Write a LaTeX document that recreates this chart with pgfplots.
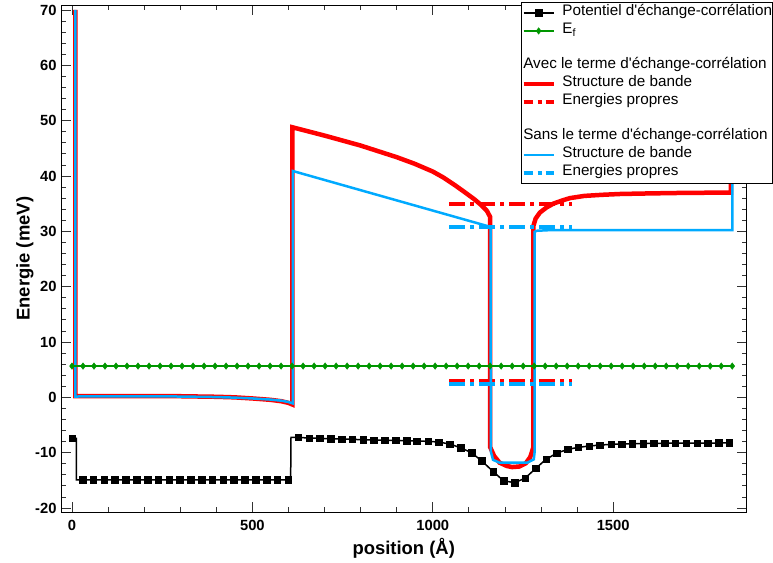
\documentclass[border=0pt]{standalone}
\usepackage{fontspec}
\setmainfont{Liberation Sans}[Ligatures=TeXOff]
\usepackage{pgfplots}
\pgfplotsset{compat=1.18}
\definecolor{myred}{RGB}{255,0,0}
\definecolor{myblue}{RGB}{0,170,255}
\definecolor{mygreen}{RGB}{0,150,0}
\tikzset{eplev/.style={line width=4bp, dash pattern=on 16bp off 5bp on 4bp off 5bp}}
\begin{document}
\begin{tikzpicture}
\begin{axis}[
 at={(0bp,0bp)}, anchor=south west,
 scale only axis, width=685.5bp, height=506.5bp,
 xmin=-30.5, xmax=1869.5, ymin=-20.72, ymax=70.81,
 xtick={0,500,1000,1500}, ytick={-20,-10,...,70},
 minor x tick num=4, minor y tick num=4,
 major tick length=10bp, minor tick length=5bp,
 tick style={black!80, line width=0.8bp},
 axis line style={black, line width=0.8bp},
 /pgf/number format/assume math mode=true,
 /pgf/number format/1000 sep={},
 tick label style={font=\fontsize{14.8}{16}\selectfont\bfseries},
 xticklabel style={yshift=-5bp},
 yticklabel style={xshift=-1bp},
 xlabel={position (Å)}, ylabel={Energie (meV)},
 label style={font=\fontsize{18.5}{20}\selectfont\bfseries},
 xlabel style={at={(axis description cs:0.5,0)}, anchor=base, yshift=-42bp},
 ylabel style={at={(axis description cs:-0.0525,0.5)}, anchor=center},
 legend style={at={(rel axis cs:0.671,1.0069)}, anchor=north west, draw=black, line width=0.8bp, fill=white,
   inner xsep=0bp, inner ysep=2bp, font=\fontsize{15.3}{17.3}\selectfont,
   nodes={inner sep=0bp, text height=11.5bp, text depth=6.2bp},
   /tikz/every odd column/.style={column sep=6.5bp}, row sep=0bp, cells={anchor=west}},
 legend image code/.code={\draw[mark repeat=2,mark phase=2,#1] plot coordinates {(0bp,0bp)(15bp,0bp)(30bp,0bp)};},
]
% band structure with exchange-correlation
\addplot[myred, line width=4.5bp, forget plot] coordinates {
(9,70)(9,0.2)(100,0.22)(200,0.22)(300,0.2)(400,0.1)(450,0.0)(500,-0.2)(550,-0.45)(580,-0.7)(600,-1.0)(611,-1.3)
(611,48.8)(700,47.3)(800,45.5)(900,43.4)(950,42.2)(1000,40.8)(1030,39.7)(1060,38.4)(1090,37.0)(1115,35.8)(1135,34.7)(1150,33.7)(1159,32.6)
(1159,-9.0)(1170,-10.6)(1185,-11.8)(1205,-12.4)(1220,-12.6)(1240,-12.5)(1258,-11.9)(1270,-10.8)(1279,-9.0)
(1279,31.0)(1285,32.3)(1297,33.4)(1315,34.3)(1334,35.0)(1360,35.6)(1380,36.0)(1420,36.4)(1470,36.6)(1520,36.75)
(1600,36.85)(1700,36.95)(1826,37.0)(1826,70)};
\addplot[myred, eplev, forget plot] coordinates {(1046,35.0)(1385,35.0)};
\addplot[myred, eplev, forget plot] coordinates {(1046,2.9)(1385,2.9)};
% band structure without exchange-correlation
\addplot[myblue, line width=2.5bp, forget plot] coordinates {
(9,70)(9,0.15)(100,0.17)(200,0.17)(300,0.15)(400,0.05)(450,-0.05)(500,-0.2)(550,-0.4)(580,-0.6)(600,-0.85)(612,-1.1)
(612,40.9)(1160,30.8)
(1161,-9.8)(1167,-11.3)(1185,-11.8)(1262,-11.8)(1280,-11.2)(1282,-10.0)
(1282,29.9)(1288,30.1)(1320,30.2)(1830,30.2)(1830,70)};
\addplot[myblue, eplev, forget plot] coordinates {(1046,30.85)(1385,30.85)};
\addplot[myblue, eplev, forget plot] coordinates {(1046,2.35)(1385,2.35)};
% exchange-correlation potential
\addplot[black, line width=1.5bp, forget plot] coordinates {
(0,-7.4)(12,-7.4)(12,-14.9)(606,-14.9)(607,-7.25)
(627,-7.23)(657,-7.36)(687,-7.41)(717,-7.48)(748,-7.54)(777,-7.59)(807,-7.66)(837,-7.72)(867,-7.75)(897,-7.77)
(927,-7.84)(956,-7.90)(987,-7.95)(1017,-8.08)(1047,-8.44)(1077,-9.11)(1107,-10.0)(1136,-11.5)(1167,-13.4)(1196,-15.07)
(1227,-15.43)(1256,-14.6)(1286,-12.8)(1314,-11.2)(1343,-10.1)(1374,-9.4)(1403,-9.04)(1433,-8.8)(1463,-8.62)(1494,-8.5)
(1523,-8.44)(1553,-8.39)(1583,-8.36)(1613,-8.31)(1643,-8.30)(1672,-8.29)(1702,-8.28)(1733,-8.27)(1762,-8.26)(1793,-8.25)
(1822,-8.24)(1832,-8.24)};
\addplot[black, only marks, mark=square*, mark size=3.3bp, forget plot] coordinates {
(0,-7.4)(29,-14.9)(59,-14.9)(89,-14.9)(119,-14.9)(149,-14.9)(179,-14.9)(209,-14.9)(239,-14.9)(269,-14.9)(299,-14.9)
(329,-14.9)(359,-14.9)(389,-14.9)(419,-14.9)(449,-14.9)(479,-14.9)(509,-14.9)(539,-14.9)(569,-14.9)(599,-14.9)
(627,-7.23)(657,-7.36)(687,-7.41)(717,-7.48)(748,-7.54)(777,-7.59)(807,-7.66)(837,-7.72)(867,-7.75)(897,-7.77)
(927,-7.84)(956,-7.90)(987,-7.95)(1017,-8.08)(1047,-8.44)(1077,-9.11)(1107,-10.0)(1136,-11.5)(1167,-13.4)(1196,-15.07)
(1227,-15.43)(1256,-14.6)(1286,-12.8)(1314,-11.2)(1343,-10.1)(1374,-9.4)(1403,-9.04)(1433,-8.8)(1463,-8.62)(1494,-8.5)
(1523,-8.44)(1553,-8.39)(1583,-8.36)(1613,-8.31)(1643,-8.30)(1672,-8.29)(1702,-8.28)(1733,-8.27)(1762,-8.26)(1793,-8.25)
(1822,-8.24)};
% Fermi level
\addplot[mygreen, line width=1.5bp, mark=diamond*, mark size=3.2bp, mark options={line width=0.5bp}, forget plot] coordinates {
(0,5.65)(30.5,5.65)(61,5.65)(91.5,5.65)(122,5.65)(152.5,5.65)(183,5.65)(213.5,5.65)(244,5.65)(274.5,5.65)
(305,5.65)(335.5,5.65)(366,5.65)(396.5,5.65)(427,5.65)(457.5,5.65)(488,5.65)(518.5,5.65)(549,5.65)(579.5,5.65)
(610,5.65)(640.5,5.65)(671,5.65)(701.5,5.65)(732,5.65)(762.5,5.65)(793,5.65)(823.5,5.65)(854,5.65)(884.5,5.65)
(915,5.65)(945.5,5.65)(976,5.65)(1006.5,5.65)(1037,5.65)(1067.5,5.65)(1098,5.65)(1128.5,5.65)(1159,5.65)(1189.5,5.65)
(1220,5.65)(1250.5,5.65)(1281,5.65)(1311.5,5.65)(1342,5.65)(1372.5,5.65)(1403,5.65)(1433.5,5.65)(1464,5.65)(1494.5,5.65)
(1525,5.65)(1555.5,5.65)(1586,5.65)(1616.5,5.65)(1647,5.65)(1677.5,5.65)(1708,5.65)(1738.5,5.65)(1769,5.65)(1799.5,5.65)
(1830,5.65)};
% legend
\addlegendimage{black, line width=1.5bp, mark=square*, mark size=3.3bp}
\addlegendentry{Potentiel d'échange-corrélation}
\addlegendimage{mygreen, line width=1.5bp, mark=diamond*, mark size=3.2bp, mark options={line width=0.5bp}}
\addlegendentry{E\textsubscript{f}}
\addlegendimage{empty legend}
\addlegendentry{}
\addlegendimage{empty legend}
\addlegendentry{\hspace*{-39.1bp}Avec le terme d'échange-corrélation}
\addlegendimage{myred, line width=4.5bp}
\addlegendentry{Structure de bande}
\addlegendimage{myred, line width=4bp, dash pattern=on 9bp off 5bp on 4bp off 4bp}
\addlegendentry{Energies propres}
\addlegendimage{empty legend}
\addlegendentry{}
\addlegendimage{empty legend}
\addlegendentry{\hspace*{-39.1bp}Sans le terme d'échange-corrélation}
\addlegendimage{myblue, line width=2.5bp}
\addlegendentry{Structure de bande}
\addlegendimage{myblue, line width=4bp, dash pattern=on 9bp off 5bp on 4bp off 4bp}
\addlegendentry{Energies propres}
\end{axis}
\pgfresetboundingbox
\useasboundingbox (-61bp,-51bp) rectangle (712bp,512bp);
\end{tikzpicture}
\end{document}
